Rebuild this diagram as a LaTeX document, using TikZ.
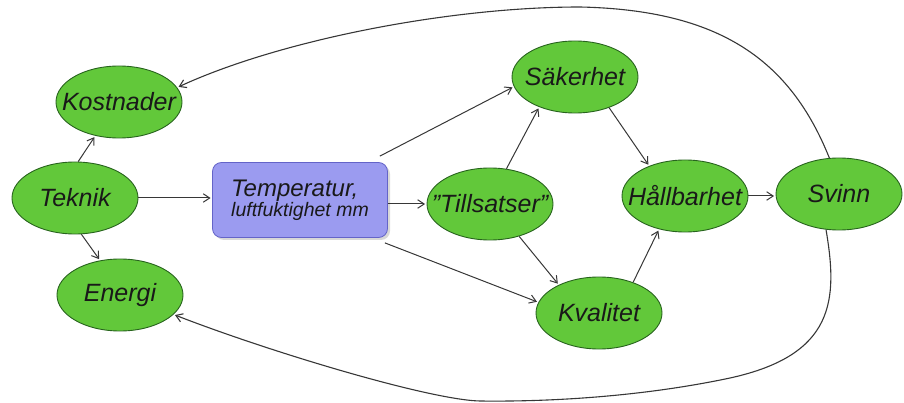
\documentclass[tikz,border=0pt]{standalone}
\usepackage{fontspec}
\setmainfont{Liberation Sans}
\usetikzlibrary{shapes.geometric,arrows.meta,shadows,calc}
\definecolor{nodegreen}{RGB}{98,200,58}
\definecolor{edgegreen}{RGB}{40,100,30}
\definecolor{boxblue}{RGB}{155,155,240}
\definecolor{edgeblue}{RGB}{100,100,200}
\definecolor{linegray}{RGB}{55,55,55}
\tikzset{
  % Factor: green ellipse, italic label (label kept out of the size calculation)
  factor/.style={ellipse, draw=edgegreen, fill=nodegreen, line width=0.9pt,
                 minimum width=126pt, minimum height=72pt, inner sep=0pt,
                 font=\itshape\fontsize{25}{29}\selectfont, text=black!90},
  % Conditions box: rounded lavender box with drop shadow
  envbox/.style={draw=edgeblue, fill=boxblue, rounded corners=9pt, line width=0.8pt,
                 minimum width=175pt, minimum height=75pt, align=left, inner sep=2pt,
                 text=black!90,
                 drop shadow={shadow xshift=2.5pt, shadow yshift=-2.5pt, fill=black!30}},
  % Arrows
  flowarr/.style={-{Straight Barb[length=6.5pt,width=8.5pt]}, draw=linegray,
                  line width=1pt, shorten >=1.5pt},
  looparr/.style={flowarr, line width=1.1pt}
}

\begin{document}
\begin{tikzpicture}[x=1pt, y=-1pt]
\useasboundingbox (0,0) rectangle (904,403);

% Left column: technique drives costs and energy
\node[factor] (tek) at (75,198) {\makebox[0pt]{Teknik}};
\node[factor] (kost) at (119,102) {\makebox[0pt]{Kostnader}};
\node[factor] (energi) at (120,295) {\makebox[0pt]{Energi}};

% Storage conditions
\node[envbox] (temp) at (300,200)
  {{\fontsize{24}{27}\selectfont\itshape Temperatur,}\\
   {\fontsize{19.5}{25}\selectfont\itshape luftfuktighet mm}};

% Middle and right: effects on the product
\node[factor] (tills) at (490,204) {\makebox[0pt]{"Tillsatser"}};
\node[factor] (sak) at (575,77) {\makebox[0pt]{Säkerhet}};
\node[factor] (kval) at (599,313) {\makebox[0pt]{Kvalitet}};
\node[factor] (hall) at (685,196) {\makebox[0pt]{Hållbarhet}};
\node[factor] (svinn) at (839,194) {\makebox[0pt]{Svinn}};

% Arrows
\draw[flowarr] (tek.85) -- (kost.-125);
\draw[flowarr] (tek.-80) -- (energi.120);
\draw[flowarr] (tek.east) -- (tek.east -| temp.west);
\draw[flowarr] ([shift={(-8,-6)}]temp.north east) -- (sak.189);
\draw[flowarr] (temp.east |- tills.west) -- (tills.west);
\draw[flowarr] ([shift={(-3,5)}]temp.south east) -- (kval.170);
\draw[flowarr] (tills.65) -- (sak.-140);
\draw[flowarr] (tills.-48) -- (kval.145);
\draw[flowarr] (sak.-42) -- (hall.140);
\draw[flowarr] (kval.42) -- (hall.-128);
\draw[flowarr] (hall.east) -- (hall.east -| svinn.west);

% Feedback loops from waste back to costs and energy
\draw[looparr] (svinn.105) .. controls (790,60) and (720,10) .. (580,7)
  .. controls (450,7) and (280,40) .. (kost.14);
\draw[looparr] (svinn.-110) .. controls (838,300) and (835,355) .. (730,378)
  .. controls (650,395) and (560,402) .. (480,401)
  .. controls (430,400) and (270,352) .. (energi.-20);

\end{tikzpicture}
\end{document}
